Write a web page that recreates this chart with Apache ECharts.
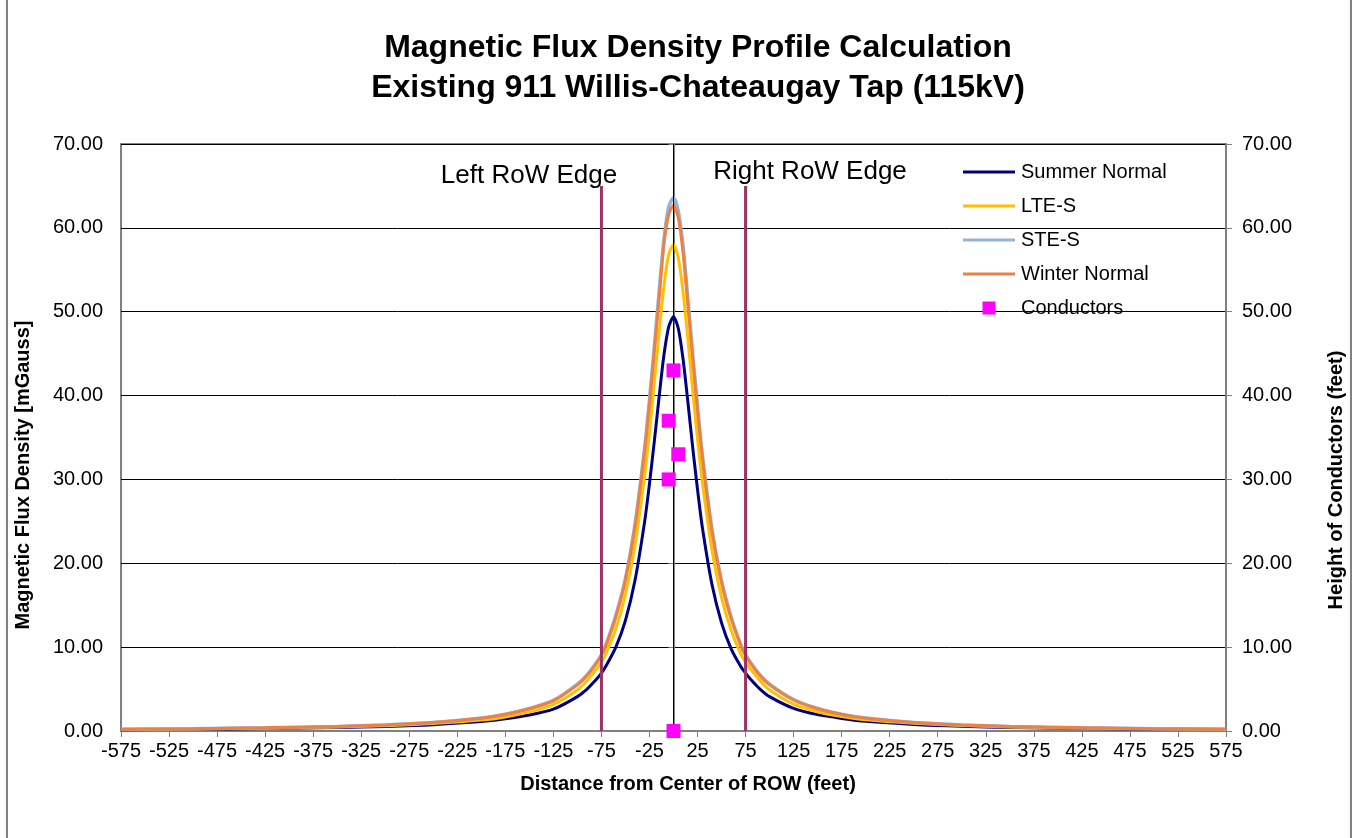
<!DOCTYPE html>
<html>
<head>
<meta charset="utf-8">
<title>Magnetic Flux Density Profile</title>
<script src="https://cdn.jsdelivr.net/npm/echarts@6/dist/echarts.min.js"></script>
<style>
  html, body { margin: 0; padding: 0; background: #fff; }
  #chart { width: 1357px; height: 838px; }
</style>
</head>
<body>
<div id="chart"></div>
<script>
// distance from centre of ROW (feet)
var xFeet = [-575, -500, -425, -350, -300, -250, -200, -175, -150, -125, -100, -90, -80, -75, -70, -60, -50, -40, -30, -25, -20, -15, -10, -5,
    0, 5, 10, 15, 20, 25, 30, 40, 50, 60, 70, 75, 80, 90, 100, 125, 150, 175, 200, 250, 300, 350, 425, 500, 575];

// flux density, mGauss
var summerNormal = [0.16, 0.21, 0.29, 0.41, 0.55, 0.76, 1.12, 1.45, 1.9, 2.6, 4.1, 5.0, 6.2, 6.9, 7.8, 10.0, 13.2, 18.0, 25.0, 29.5, 34.5, 39.8, 44.8, 48.2,
    49.4, 48.0, 44.3, 39.2, 33.8, 28.8, 24.3, 17.5, 12.9, 9.8, 7.7, 6.9, 6.2, 5.0, 4.1, 2.7, 1.95, 1.5, 1.15, 0.78, 0.56, 0.42, 0.30, 0.22, 0.17];
var lteS = [0.19, 0.25, 0.34, 0.48, 0.64, 0.9, 1.3, 1.68, 2.28, 3.15, 4.9, 6.0, 7.4, 8.2, 9.3, 12.2, 16.3, 22.2, 30.5, 35.6, 41.5, 47.5, 53.0, 56.8,
    58.0, 56.4, 52.3, 46.7, 40.6, 34.8, 29.7, 21.6, 15.9, 12.0, 9.2, 8.2, 7.4, 6.0, 4.9, 3.2, 2.3, 1.72, 1.33, 0.92, 0.65, 0.49, 0.35, 0.26, 0.2];
var steS = [0.22, 0.28, 0.38, 0.55, 0.73, 1.01, 1.54, 2.0, 2.68, 3.65, 5.6, 6.7, 8.2, 9.1, 10.4, 13.8, 18.2, 24.7, 33.8, 39.5, 45.8, 52.3, 58.6, 62.5,
    63.6, 62.0, 57.8, 51.5, 45.0, 38.7, 33.0, 24.1, 17.9, 13.6, 10.3, 9.1, 8.2, 6.7, 5.6, 3.75, 2.68, 2.0, 1.54, 1.01, 0.73, 0.55, 0.38, 0.28, 0.22];
var winterNormal = [0.22, 0.28, 0.38, 0.54, 0.72, 1.0, 1.52, 1.97, 2.65, 3.6, 5.5, 6.6, 8.1, 9.0, 10.3, 13.6, 18.0, 24.4, 33.4, 39.0, 45.2, 51.6, 58.0, 61.6,
    62.7, 61.2, 57.0, 50.8, 44.4, 38.2, 32.6, 23.8, 17.7, 13.4, 10.2, 9.0, 8.1, 6.6, 5.5, 3.7, 2.65, 1.97, 1.52, 1.0, 0.72, 0.54, 0.38, 0.28, 0.22];

// conductor positions (feet) and heights (feet)
var conductorX = [0, -5, 5, -5, 0];
var conductorH = [43, 37, 33, 30, 0];

// right-of-way edges
var rowEdgeX = [-75, 75];
var rowEdgeTop = 65;

var FONT = '"Liberation Sans", Arial, sans-serif';
var LINE_ICON = 'path://M0,0 H52 V3 H0 Z';
var SQUARE_ICON = 'path://M0,0 H10 V10 H0 Z';

function pairs(xs, ys) {
    return xs.map(function (x, i) { return [x, ys[i]]; });
}

var echart = echarts.init(document.getElementById('chart'));

function curve(name, values, color, width) {
    return {
        name: name,
        type: 'line',
        data: pairs(xFeet, values),
        symbol: 'none',
        smooth: 0.25,
        lineStyle: { color: color, width: width },
        itemStyle: { color: color },
        z: 3
    };
}

var series = [
    curve('Summer Normal', summerNormal, '#000080', 3),
    curve('LTE-S', lteS, '#FFC000', 3),
    curve('STE-S', steS, '#95B3D7', 3.5),
    curve('Winter Normal', winterNormal, '#EE8040', 3)
];

rowEdgeX.forEach(function (x) {
    series.push({
        name: 'RoW ' + x,
        type: 'line',
        data: [[x, 0], [x, rowEdgeTop]],
        symbol: 'none',
        lineStyle: { color: '#993366', width: 3 },
        silent: true,
        z: 4
    });
});

// centre line
series.push({
    name: 'Centre',
    type: 'line',
    data: [[0, 0], [0, 70]],
    symbol: 'none',
    lineStyle: { color: '#000', width: 1 },
    silent: true,
    z: 4
});

series.push({
    name: 'Conductors',
    type: 'scatter',
    yAxisIndex: 1,
    data: pairs(conductorX, conductorH),
    symbol: 'rect',
    symbolSize: 14,
    itemStyle: { color: '#FF00FF', opacity: 1 },
    z: 5
});

var option = {
    animation: false,
    backgroundColor: '#fff',
    textStyle: { fontFamily: FONT },
    grid: {
        left: 121, right: 131, top: 144, bottom: 107,
        show: true, borderColor: '#808080', borderWidth: 2
    },
    legend: {
        data: [
            { name: 'Summer Normal', icon: LINE_ICON },
            { name: 'LTE-S', icon: LINE_ICON },
            { name: 'STE-S', icon: LINE_ICON },
            { name: 'Winter Normal', icon: LINE_ICON },
            { name: 'Conductors', icon: SQUARE_ICON }
        ],
        orient: 'vertical',
        left: 958, top: 157,
        itemWidth: 52, itemHeight: 13, itemGap: 14,
        symbolKeepAspect: true,
        textStyle: { fontSize: 20, color: '#000', fontFamily: FONT, lineHeight: 20, padding: [0, 0, 0, 1] }
    },
    xAxis: {
        type: 'value',
        min: -575, max: 575, interval: 50,
        axisLine: { show: true, onZero: false, lineStyle: { color: '#808080', width: 2 } },
        axisTick: { show: true, length: 6, lineStyle: { color: '#808080' } },
        axisLabel: { fontSize: 20, color: '#000', margin: 10, fontFamily: FONT },
        splitLine: { show: false }
    },
    yAxis: [{
        type: 'value',
        min: 0, max: 70, interval: 10,
        axisLine: { show: true, lineStyle: { color: '#808080', width: 2 } },
        axisTick: { show: true, length: 5, lineStyle: { color: '#808080' } },
        axisLabel: {
            fontSize: 20, color: '#000', margin: 18, fontFamily: FONT,
            formatter: function (v) { return v.toFixed(2); }
        },
        splitLine: { show: true, lineStyle: { color: '#000', width: 1 } }
    }, {
        type: 'value',
        position: 'right',
        min: 0, max: 70, interval: 10,
        axisLine: { show: true, lineStyle: { color: '#808080', width: 2 } },
        axisTick: { show: true, length: 6, lineStyle: { color: '#808080' } },
        axisLabel: {
            fontSize: 20, color: '#000', margin: 16, fontFamily: FONT,
            formatter: function (v) { return v.toFixed(2); }
        },
        splitLine: { show: false }
    }],
    graphic: [
        {
            type: 'rect', silent: true, z: -1,
            shape: { x: 7, y: -10, width: 1344, height: 860 },
            style: { fill: null, stroke: '#808080', lineWidth: 2 }
        },
        {
            type: 'text', x: 698, y: 68,
            style: {
                text: 'Magnetic Flux Density Profile Calculation\nExisting 911 Willis-Chateaugay Tap (115kV)',
                font: 'bold 32px ' + FONT, lineHeight: 40,
                textAlign: 'center', textVerticalAlign: 'middle', fill: '#000'
            }
        },
        {
            type: 'text', x: 529, y: 176,
            style: { text: 'Left RoW Edge', font: '26px ' + FONT, textAlign: 'center', textVerticalAlign: 'middle', fill: '#000' }
        },
        {
            type: 'text', x: 810, y: 172,
            style: { text: 'Right RoW Edge', font: '26px ' + FONT, textAlign: 'center', textVerticalAlign: 'middle', fill: '#000' }
        },
        {
            type: 'text', x: 688, y: 784,
            style: { text: 'Distance from Center of ROW (feet)', font: 'bold 20px ' + FONT, textAlign: 'center', textVerticalAlign: 'middle', fill: '#000' }
        },
        {
            type: 'text', x: 23, y: 475, rotation: Math.PI / 2,
            style: { text: 'Magnetic Flux Density [mGauss]', font: 'bold 20px ' + FONT, textAlign: 'center', textVerticalAlign: 'middle', fill: '#000' }
        },
        {
            type: 'text', x: 1336, y: 480, rotation: Math.PI / 2,
            style: { text: 'Height of Conductors (feet)', font: 'bold 20px ' + FONT, textAlign: 'center', textVerticalAlign: 'middle', fill: '#000' }
        }
    ],
    series: series
};

echart.setOption(option);
</script>
</body>
</html>
